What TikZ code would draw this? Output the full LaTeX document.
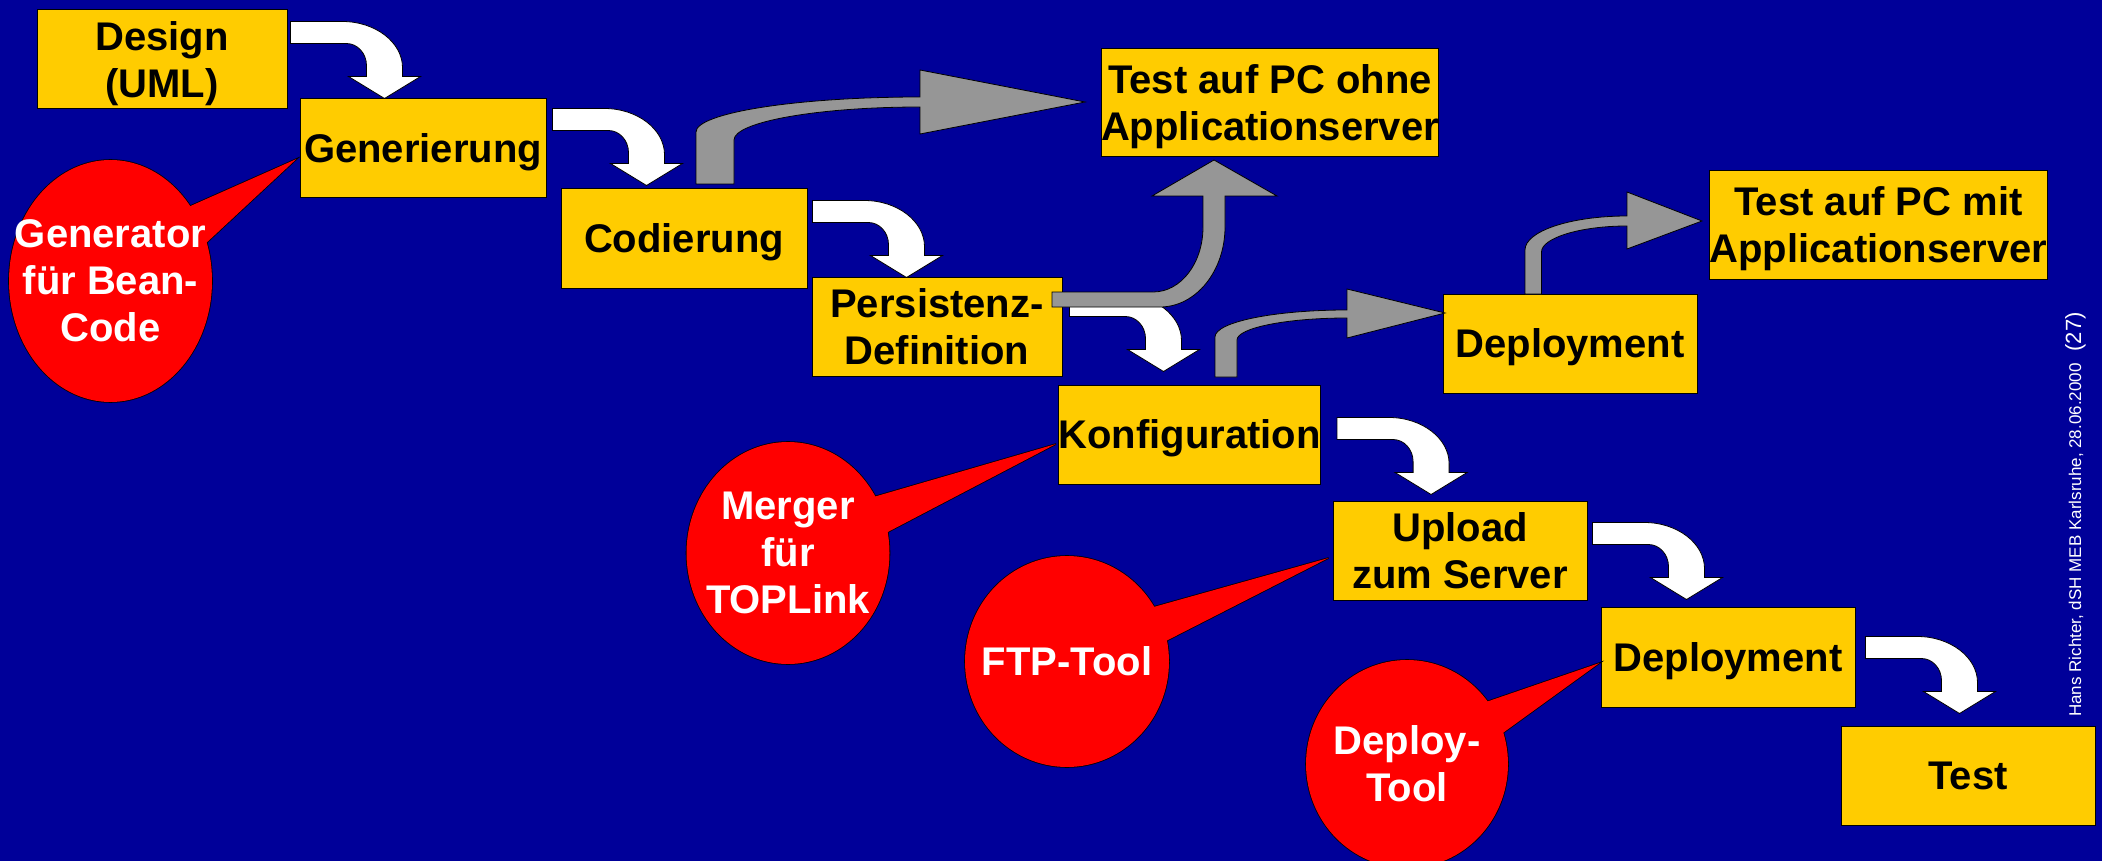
\documentclass[tikz,border=0pt]{standalone}
\usepackage{fontspec}
\setmainfont{Liberation Sans}
\usetikzlibrary{calc}

\definecolor{slideblue}{RGB}{0,0,153}
\definecolor{boxyellow}{RGB}{255,204,0}
\definecolor{bubblered}{RGB}{255,0,0}
\definecolor{arrowgray}{RGB}{150,150,150}

\tikzset{
  stage/.style={draw=black, line width=1pt, fill=boxyellow, inner sep=0pt,
    align=center, text=black, text depth=0pt,
    font=\bfseries\fontsize{40}{47}\selectfont},
  flowarrow/.style={fill=white, draw=black, line width=0.8pt, line join=miter},
  sidearrow/.style={fill=arrowgray, draw=black, line width=0.8pt, line join=miter},
  bubbletext/.style={text=white, align=center, inner sep=0pt,
    font=\bfseries\fontsize{40}{47}\selectfont},
  % white bent block arrow, origin = top left end of its shaft
  bentarrow/.pic={
    \path[flowarrow] (0,0) -- (52,0) .. controls (85,0) and (112,21) .. (112,46)
      -- (112,55) -- (130,55) -- (94,77) -- (58,55) -- (76,55) -- (76,44)
      .. controls (76,32) and (67,22) .. (56,22) -- (0,22) -- cycle;
  }
}

% red speech bubble: #1 centre, #2/#3 radii, #4 tip, #5/#6 wedge base points
\newcommand{\speechbubble}[6]{%
  \draw[black, line width=1.6pt] (#1) ellipse [x radius=#2, y radius=#3]
    (#4) -- (#5) -- (#6) -- cycle;
  \fill[bubblered] (#1) ellipse [x radius=#2, y radius=#3];
  \fill[bubblered] (#4) -- (#5) -- (#6) -- cycle;
}

\begin{document}
\begin{tikzpicture}[x=1pt, y=-1pt]
  \fill[slideblue] (0,0) rectangle (2102,861);
  \useasboundingbox (0,0) rectangle (2102,861);

  % process steps
  \node[stage, minimum width=250, minimum height=99] (design)  at (162,59.5)    {Design\\(UML)};
  \node[stage, minimum width=246, minimum height=99] (gen)     at (423,148.5)   {Generierung};
  \node[stage, minimum width=246, minimum height=99] (cod)     at (684,238.5)   {Codierung};
  \node[stage, minimum width=250, minimum height=99] (pers)    at (937,326.5)   {Persistenz-\\Definition};
  \node[stage, minimum width=253, minimum height=99] (konf)    at (1189.5,434.5){Konfiguration};
  \node[stage, minimum width=254, minimum height=99] (upload)  at (1460,550.5)  {Upload\\zum Server};
  \node[stage, minimum width=254, minimum height=100] (deployB) at (1728,657)   {Deployment};
  \node[stage, minimum width=254, minimum height=99] (test)    at (1968,775.5)  {Test};
  \node[stage, minimum width=336, minimum height=108] (testA)  at (1270,103)    {Test auf PC ohne\\Applicationserver};
  \node[stage, minimum width=337, minimum height=108] (testB)  at (1878.5,225)  {Test auf PC mit\\Applicationserver};
  \node[stage, minimum width=254, minimum height=99] (deployA) at (1570,343.5)  {Deployment};

  % main flow: white bent arrows
  \pic at ($(design.north east)+(3,12)$) {bentarrow};
  \pic at ($(gen.north east)+(6,10)$)    {bentarrow};
  \pic at ($(cod.north east)+(5,12)$)    {bentarrow};
  \pic at ($(pers.north east)+(7,18)$)   {bentarrow};
  \pic at ($(konf.north east)+(16,33)$)  {bentarrow};
  \pic at ($(upload.north east)+(5,22)$) {bentarrow};
  \pic at ($(deployB.north east)+(10,30)$) {bentarrow};

  % test branches: grey curved arrows
  \path[sidearrow] (696,184) -- (696,132) .. controls (696,113) and (796,97) .. (920,97)
    -- (920,70) -- (1085,102) -- (920,134) -- (920,107)
    .. controls (817,107) and (734,122) .. (734,140) -- (734,184) -- cycle;
  \path[sidearrow] (1052,292) -- (1153,292) .. controls (1181,292) and (1203,263) .. (1203,227)
    -- (1203,196) -- (1152,196) -- (1214,160) -- (1277,196) -- (1225,196) -- (1225,227)
    .. controls (1225,271) and (1196,307) .. (1160,307) -- (1052,307) -- cycle;
  \path[sidearrow] (1215,377) -- (1215,337) .. controls (1215,322) and (1274,310) .. (1347,310)
    -- (1347,289) -- (1445,313) -- (1347,338) -- (1347,318)
    .. controls (1286,318) and (1237,328) .. (1237,340) -- (1237,377) -- cycle;
  \path[sidearrow] (1525,294) -- (1525,250) .. controls (1525,231) and (1571,216) .. (1627,216)
    -- (1627,192) -- (1702,221) -- (1627,249) -- (1627,226)
    .. controls (1580,226) and (1541.5,238) .. (1541.5,252) -- (1541.5,294) -- cycle;

  % tool callouts
  \coordinate (c1) at (110.5,281);
  \coordinate (c2) at (788,553);
  \coordinate (c3) at (1067,661.5);
  \coordinate (c4) at (1407,764);
  \coordinate (t1) at ($(gen.west)+(-3,10.5)$);
  \coordinate (t2) at ($(konf.west)+(-2,9.5)$);
  \coordinate (t3) at ($(upload.west)+(-4,7.5)$);
  \coordinate (t4) at ($(deployB.west)+(-1,6)$);
  \speechbubble{c1}{101.5}{121}{t1}{186,208}{204,245}
  \speechbubble{c2}{101.5}{111}{t2}{870,498}{884,534}
  \speechbubble{c3}{102}{105.5}{t3}{1150,608}{1164,642}
  \speechbubble{c4}{101}{104}{t4}{1483,703}{1500,735}
  \node[bubbletext] (toolGen)    at (c1) {Generator\\für Bean-\\Code};
  \node[bubbletext] (toolMerge)  at (c2) {Merger\\für\\TOPLink};
  \node[bubbletext] (toolFtp)    at (c3) {FTP-Tool};
  \node[bubbletext] (toolDeploy) at (c4) {Deploy-\\Tool};

  % footer
  \node[rotate=90, anchor=base west, inner sep=0pt, text=white,
    font=\fontsize{17}{17}\selectfont] (footer) at (2081,717)
    {Hans Richter, dSH MEB Karlsruhe, 28.06.2000\hspace{12pt}{\fontsize{22}{22}\selectfont(27)}};
\end{tikzpicture}
\end{document}
